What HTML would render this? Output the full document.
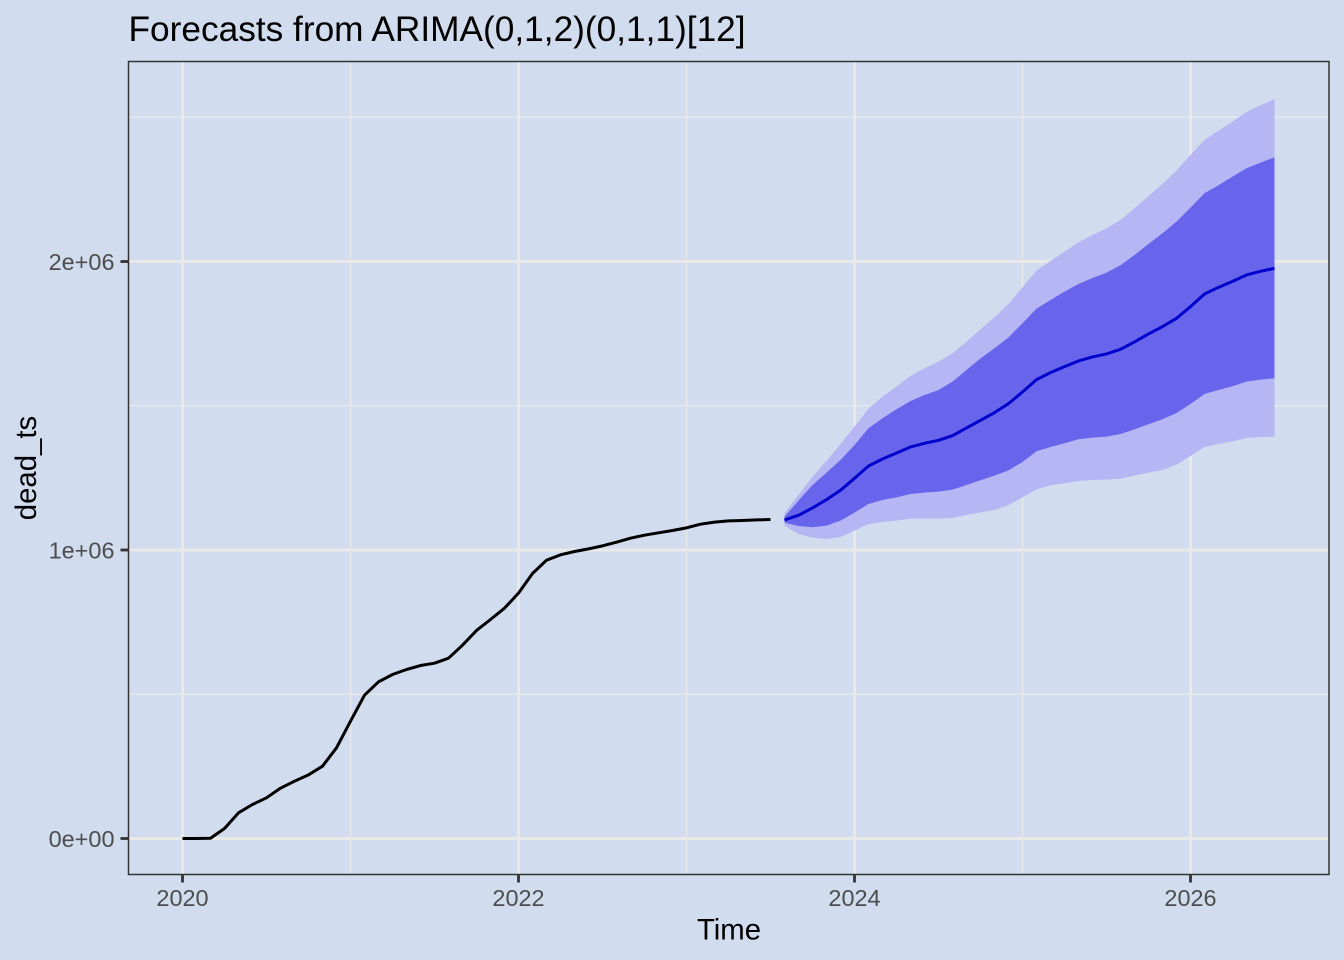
<!DOCTYPE html>
<html lang="en">
<head>
<meta charset="utf-8">
<title>Forecasts from ARIMA(0,1,2)(0,1,1)[12]</title>
<style>
  html, body { margin: 0; padding: 0; background: #D1DCEE; }
  svg { display: block; font-family: "Liberation Sans", Arial, sans-serif; }
</style>
</head>
<body>
<svg id="chart" width="1344" height="960" viewBox="0 0 1344 960" xmlns="http://www.w3.org/2000/svg"></svg>
<script>
const observedStart = 2020;
const observed = [0,0,1000,34700,89000,117900,141000,174500,198700,220700,250700,314300,406700,496800,543000,568500,585800,599600,607700,625000,670100,721000,759100,798400,850400,918500,964800,983200,994800,1004000,1014400,1027100,1041000,1051400,1059500,1067600,1076800,1089500,1096500,1101100,1102300,1104500,1105700];
const forecastStart = 2023 + 7 / 12;
const forecastMean = [1104100,1120300,1145700,1174600,1206900,1248500,1291200,1315500,1336300,1357100,1369800,1380200,1396400,1423000,1449500,1476100,1507300,1547800,1590500,1614800,1635600,1655200,1669100,1679500,1695600,1721100,1748800,1774200,1803100,1843500,1887400,1910500,1931300,1953300,1966000,1976400];
const upper80 = [1115600,1171100,1225400,1268100,1312000,1364000,1421800,1456500,1487700,1516600,1537300,1554700,1583600,1624000,1664400,1699100,1737200,1785800,1836600,1866600,1895500,1922100,1942900,1961400,1986800,2022600,2060700,2097700,2138200,2186700,2236400,2264100,2294100,2323000,2342700,2361100];
const lower80 = [1094800,1083300,1078700,1084400,1101800,1129500,1159500,1173400,1182600,1194200,1198800,1202300,1209200,1225400,1241600,1257700,1276200,1305100,1342100,1357100,1369800,1383700,1389500,1392900,1402200,1418300,1435700,1453000,1475000,1506200,1540800,1554700,1567400,1583600,1590500,1595100];
const upper95 = [1127200,1190700,1254300,1308600,1367500,1427600,1490000,1531600,1566200,1603200,1629800,1652900,1681800,1722200,1765000,1806600,1852800,1910500,1968300,2001800,2034200,2066500,2091900,2115000,2143900,2184400,2227100,2268700,2314900,2369200,2421200,2453600,2484800,2518300,2541400,2563300];
const lower95 = [1084400,1055600,1042800,1038200,1045100,1067100,1090200,1097100,1101800,1108700,1108700,1108700,1111000,1121400,1130600,1138700,1156100,1182600,1210400,1224200,1231200,1239300,1242700,1243900,1247300,1257700,1268200,1277400,1295900,1325900,1357100,1367500,1376700,1388300,1391800,1392900];
const xMajorTicks = [2020, 2022, 2024, 2026];
const xMinorTicks = [2021, 2023, 2025];
const yMajorTicks = [0, 1000000, 2000000];
const yMajorLabels = ['0e+00', '1e+06', '2e+06'];
const yMinorTicks = [500000, 1500000, 2500000];

const panelLeft = 128.5, panelRight = 1329, panelTop = 61.5, panelBottom = 874.5;
const svg = document.getElementById('chart');
const NS = 'http://www.w3.org/2000/svg';

function xScale(t) { return 182.5 + (t - 2020) * 168; }
function yScale(v) { return 838.5 - v * 288.5 / 1000000; }

function make(tag, attrs, text) {
  const el = document.createElementNS(NS, tag);
  for (const k in attrs) el.setAttribute(k, attrs[k]);
  if (text !== undefined) el.textContent = text;
  svg.appendChild(el);
  return el;
}
function seriesPoints(start, values) {
  return values.map(function (v, i) {
    return xScale(start + i / 12).toFixed(2) + ',' + yScale(v).toFixed(2);
  });
}
function bandPoints(start, hi, lo) {
  const top = seriesPoints(start, hi);
  const bottom = seriesPoints(start, lo).reverse();
  return top.concat(bottom).join(' ');
}

let node;
node = make('rect', { x: 0, y: 0, width: 1344, height: 960, fill: '#D1DCEE' });



yMinorTicks.forEach(function (v) {
  const g = make('line', { x1: panelLeft, x2: panelRight, y1: yScale(v), y2: yScale(v), stroke: '#E6E8EC', 'stroke-width': 1.5 });
  
  
});
xMinorTicks.forEach(function (t) {
  const g = make('line', { x1: xScale(t), x2: xScale(t), y1: panelTop, y2: panelBottom, stroke: '#E6E8EC', 'stroke-width': 1.5 });
  
  
});
yMajorTicks.forEach(function (v) {
  const g = make('line', { x1: panelLeft, x2: panelRight, y1: yScale(v), y2: yScale(v), stroke: '#E9E9E8', 'stroke-width': 2.9 });
  
  
});
xMajorTicks.forEach(function (t) {
  const g = make('line', { x1: xScale(t), x2: xScale(t), y1: panelTop, y2: panelBottom, stroke: '#E9E9E8', 'stroke-width': 2.9 });
  
  
});

node = make('polygon', { points: bandPoints(forecastStart, upper95, lower95), fill: '#B6B6F4' });



node = make('polygon', { points: bandPoints(forecastStart, upper80, lower80), fill: '#6865EC' });



node = make('polyline', { points: seriesPoints(observedStart, observed).join(' '), fill: 'none', stroke: '#000000', 'stroke-width': 3, 'stroke-linejoin': 'round' });



node = make('polyline', { points: seriesPoints(forecastStart, forecastMean).join(' '), fill: 'none', stroke: '#0000CC', 'stroke-width': 3, 'stroke-linejoin': 'round' });



node = make('rect', { x: panelLeft, y: panelTop, width: panelRight - panelLeft, height: panelBottom - panelTop, fill: 'none', stroke: '#333333', 'stroke-width': 1.5 });



xMajorTicks.forEach(function (t) {
  const tick = make('line', { x1: xScale(t), x2: xScale(t), y1: panelBottom, y2: panelBottom + 8, stroke: '#333333', 'stroke-width': 2.8 });
  
  
  const label = make('text', { x: xScale(t), y: 906, 'text-anchor': 'middle', 'font-size': 23.47, fill: '#4D4D4D' }, String(t));
  
  
});
yMajorTicks.forEach(function (v, i) {
  const tick = make('line', { x1: panelLeft - 8, x2: panelLeft, y1: yScale(v), y2: yScale(v), stroke: '#333333', 'stroke-width': 2.8 });
  
  
  const label = make('text', { x: 114.5, y: yScale(v) + 8.5, 'text-anchor': 'end', 'font-size': 23.47, fill: '#4D4D4D' }, yMajorLabels[i]);
  
  
});

node = make('text', { x: 128.5, y: 41, 'font-size': 35.25, fill: '#000000' }, 'Forecasts from ARIMA(0,1,2)(0,1,1)[12]');



node = make('text', { x: 729, y: 939.5, 'text-anchor': 'middle', 'font-size': 29.33, fill: '#000000' }, 'Time');



node = make('text', { x: 36, y: 468, 'text-anchor': 'middle', 'font-size': 29.33, fill: '#000000', transform: 'rotate(-90 36 468)' }, 'dead_ts');


</script>
</body>
</html>
